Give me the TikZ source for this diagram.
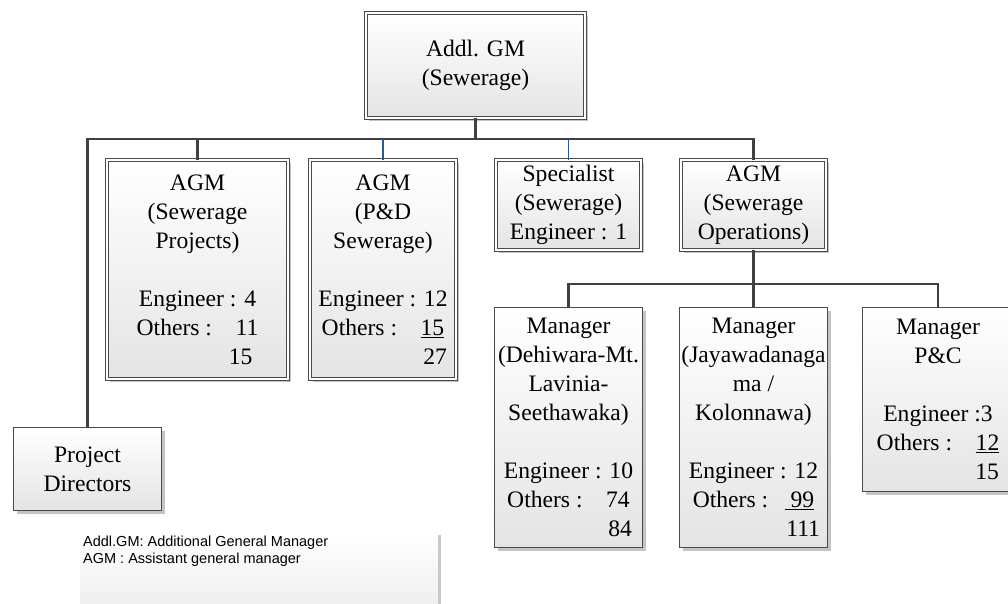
\documentclass[tikz,border=0pt]{standalone}
\usepackage{fontspec}
\setmainfont{Liberation Serif}
\newfontfamily\legendfont{Liberation Sans}
\usetikzlibrary{shadows}

\definecolor{linegray}{HTML}{404040}
\definecolor{bordergray}{HTML}{4A4A4A}
\definecolor{linkblue}{HTML}{2B5A93}
\definecolor{shadowgray}{HTML}{C4C4C4}
\definecolor{fillbottom}{HTML}{E4E4E4}

\tikzset{
  box/.style={rectangle, draw=bordergray, line width=1pt,
    top color=white, bottom color=fillbottom,
    inner sep=0pt, align=center,
    font=\fontsize{23.6}{29}\selectfont,
    drop shadow={shadow xshift=3pt, shadow yshift=-3pt, fill=shadowgray, opacity=1}},
  dbox/.style={box, double=white, double distance=2.4pt, line width=0.9pt},
  conn/.style={draw=linegray, line width=2.4pt},
  thinconn/.style={draw=linkblue, line width=1.1pt},
  legendbox/.style={rectangle, top color=white, bottom color=black!8,
    inner sep=0pt, anchor=north west,
    drop shadow={shadow xshift=3pt, shadow yshift=-3pt, fill=black!22, opacity=1}},
}

\begin{document}
\begin{tikzpicture}[x=1pt,y=-1pt]
\useasboundingbox (0,0) rectangle (1008,604);
\clip (0,0) rectangle (1008,604);

% top level
\node[dbox, minimum width=219pt, minimum height=105pt] (gm) at (475.5,65.5)
  {Addl. GM\\(Sewerage)};

% second level
\node[dbox, minimum width=181pt, minimum height=219pt] (agm1) at (197.5,269.5)
  {AGM\\(Sewerage\\Projects)\\[29pt]Engineer : 4\\Others :\hspace{1em}11\\\makebox[110pt][r]{15}};
\node[dbox, minimum width=146pt, minimum height=219pt] (agm2) at (383,269.5)
  {AGM\\(P\&D\\Sewerage)\\[29pt]Engineer : 12\\Others :\hspace{1em}\underline{15}\\\makebox[128pt][r]{27}};
\node[dbox, minimum width=145pt, minimum height=90pt] (spec) at (568.5,205)
  {Specialist\\(Sewerage)\\Engineer : 1};
\node[dbox, minimum width=145pt, minimum height=90pt] (ops) at (753.5,205)
  {AGM\\(Sewerage\\Operations)};

% managers under operations
\node[box, minimum width=148pt, minimum height=240pt] (mgr1) at (568.5,427.5)
  {Manager\\(Dehiwara-Mt.\\Lavinia-\\Seethawaka)\\[29pt]Engineer : 10\\Others :\hspace{1em}74\\\makebox[127pt][r]{84}};
\node[box, minimum width=148pt, minimum height=240pt] (mgr2) at (753.5,427.5)
  {Manager\\(Jayawadanaga\\ma /\\Kolonnawa)\\[29pt]Engineer : 12\\Others :\hspace{0.7em}\underline{\ 99}\\\makebox[133pt][r]{111}};
\node[box, minimum width=151pt, minimum height=184pt] (mgr3) at (938,399.5)
  {Manager\\P\&C\\[29pt]Engineer :3\\Others :\hspace{1em}\underline{12}\\\makebox[122pt][r]{15}};

% project directors
\node[box, minimum width=148pt, minimum height=83pt] (pd) at (87.5,469)
  {Project\\Directors};

% abbreviations
\node[legendbox, minimum width=358pt, minimum height=90pt] (legend) at (80,532) {};
\node[anchor=north west, inner sep=0pt, align=left,
  font=\legendfont\fontsize{14.5}{17}\selectfont] (legendtext) at (83,535.5)
  {Addl.GM: Additional General Manager\\AGM : Assistant general manager};

% connectors
\coordinate (bus) at (0,139);
\coordinate (bus2) at (0,284);
\draw[conn] (pd.north) -- (pd.north |- bus) -- (ops.north |- bus) -- (ops.north);
\draw[conn] (gm.south) -- (gm.south |- bus);
\draw[conn] (agm1.north) -- (agm1.north |- bus);
\draw[thinconn] (agm2.north) -- (agm2.north |- bus);
\draw[thinconn] (spec.north) -- (spec.north |- bus);
\draw[conn] (ops.south) -- (ops.south |- bus2);
\draw[conn] (mgr1.north) -- (mgr1.north |- bus2) -- (mgr3.north |- bus2) -- (mgr3.north);
\draw[conn] (mgr2.north) -- (mgr2.north |- bus2);
\end{tikzpicture}
\end{document}
